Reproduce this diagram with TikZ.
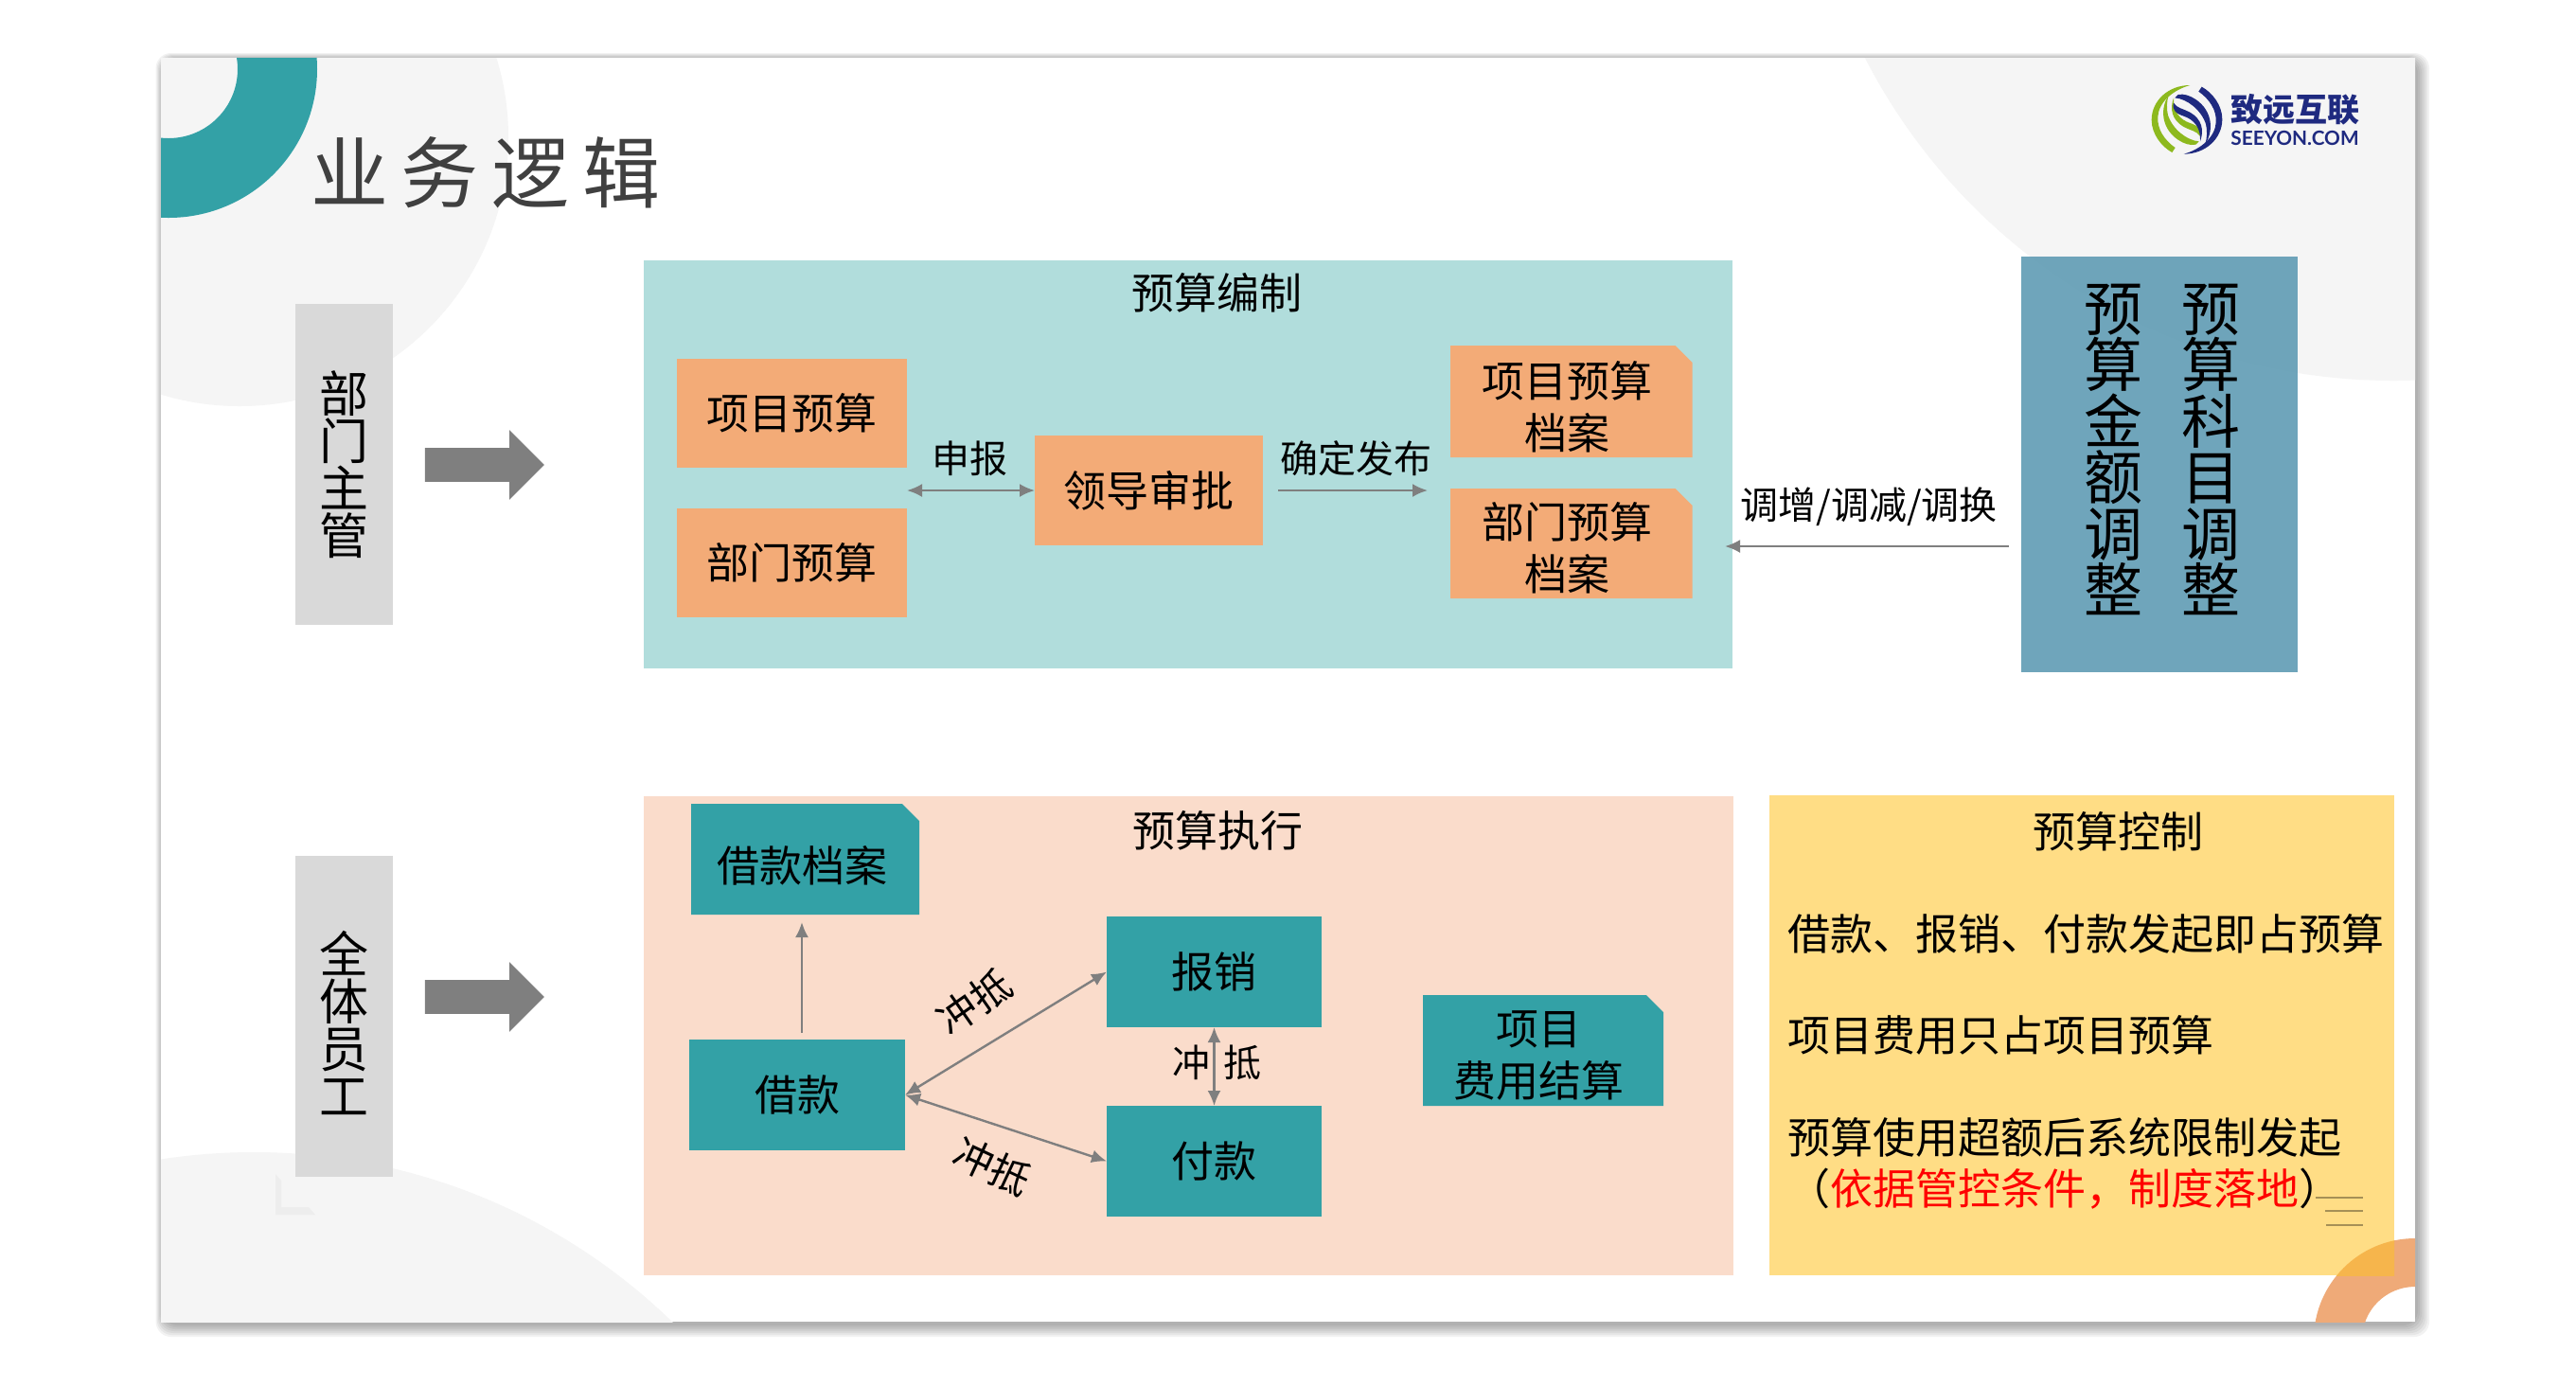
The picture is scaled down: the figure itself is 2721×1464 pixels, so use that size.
\documentclass[tikz,border=0pt]{standalone}
\usepackage{fontspec}
\setmainfont{Noto Sans CJK SC}
\newfontfamily\titlefont[LetterSpace=17]{Noto Sans CJK SC}
\newfontfamily\logofont[Scale=1]{Lato}
\usetikzlibrary{arrows.meta,shapes.arrows}
\definecolor{cTeal}{HTML}{33A1A6}
\definecolor{cOrange}{HTML}{F3AB77}
\definecolor{cMint}{HTML}{B1DDDC}
\definecolor{cPeach}{HTML}{FADCCB}
\definecolor{cYellow}{HTML}{FFDD85}
\definecolor{cBlue}{HTML}{609CB4}
\definecolor{cGrey}{HTML}{D9D9D9}
\definecolor{cArrow}{HTML}{7F7F7F}
\definecolor{cPale}{HTML}{F5F5F5}
\definecolor{cRing}{HTML}{EFAA78}
\definecolor{cOverlap}{HTML}{F6B54C}
\definecolor{cLogoBlue}{HTML}{1F2A80}
\definecolor{cLogoGreen}{HTML}{8DB91E}
\definecolor{cTitle}{HTML}{404040}
\tikzset{
  sz/.style 2 args={minimum width=#1*0.5pt,minimum height=#2*0.5pt,inner sep=0pt,outer sep=0pt},
  panel/.style={rectangle,fill=#1,anchor=center},
  txt/.style={font=\fontsize{22.5}{27.5}\selectfont,text=black,align=center},
  small/.style={font=\fontsize{20}{24}\selectfont,text=black,inner sep=0pt},
  tilted/.style={font=\fontsize{21}{21}\selectfont,text=black,inner sep=0pt},
  tag/.style={rectangle,fill=cGrey},
  tagtext/.style={font=\fontsize{26}{25}\selectfont,align=center,inner sep=0pt,text=black},
  tall/.style={font=\fontsize{31}{29.7}\selectfont,align=center,inner sep=0pt},
  doc/.style={rectangle,path picture={
    \fill[#1] (path picture bounding box.north west)
      -- ([xshift=-9pt]path picture bounding box.north east)
      -- ([yshift=-9pt]path picture bounding box.north east)
      -- (path picture bounding box.south east)
      -- (path picture bounding box.south west) -- cycle;}},
  link/.style={draw=cArrow,line width=1.2pt,-{Latex[length=8pt,width=7pt]}},
  linkboth/.style={draw=cArrow,line width=1.2pt,{Latex[length=8pt,width=7pt]}-{Latex[length=8pt,width=7pt]}},
  bigarrow/.style={single arrow,fill=cArrow,inner xsep=0pt,inner ysep=8.75pt,outer sep=0pt,minimum height=63pt,minimum width=36.5pt,
    single arrow head extend=9.5pt,single arrow head indent=0pt},
  yline/.style={anchor=west,txt,inner sep=0pt},
}
\begin{document}
\begin{tikzpicture}[x=0.5pt,y=-0.5pt]
\useasboundingbox (0,0) rectangle (2721,1464);
% slide shadow
\foreach \r in {14,12,10,8,6,4,2}{
  \fill[black,opacity=0.05,rounded corners=8pt]
    ({170-\r*0.6+3},{61-\r*0.5+2}) rectangle ({2551+\r+1},{1396+\r+2});
}
\fill[white] (170,61) rectangle (2551,1396);
% slide decorations
\begin{scope}
  \clip (170,61) rectangle (2551,1396);
  \fill[cPale] (253,145) circle (284);
  \fill[cPale] (268,1852) circle (635);
  \fill[cPale] (2528,-225) circle (627);
  \fill[cTeal,even odd rule] (178,73) circle (157) (178,73) circle (73);
  \fill[cRing,even odd rule] (2551,1415) circle (107) (2551,1415) circle (56);
  \fill[black!7] (291,1240) -- (297,1247) -- (297,1275) -- (326,1275) -- (333,1283) -- (291,1283) -- cycle;
\end{scope}
% title
\node[font=\titlefont\fontsize{41}{41}\selectfont,text=cTitle,inner sep=0pt] (title) at (513,182) {业务逻辑};
% logo
\begin{scope}[shift={(2260,80)},scale=1/3]
  \foreach \col/\ang in {cLogoGreen/0,cLogoBlue/180}{
    \begin{scope}[rotate around={\ang:(150,139)}]
      \fill[\col] (160,30) .. controls (90,30) and (38,80) .. (38,140)
        .. controls (38,185) and (70,225) .. (103,243) -- (113,228)
        .. controls (80,205) and (55,170) .. (58,130)
        .. controls (60,85) and (105,45) .. (160,30) -- cycle;
      \fill[\col] (92,62) .. controls (66,100) and (66,165) .. (122,203)
        .. controls (140,215) and (160,222) .. (178,218) -- (188,208)
        .. controls (150,205) and (105,170) .. (90,125)
        .. controls (85,105) and (86,80) .. (92,62) -- cycle;
      \fill[\col] (108,70) .. controls (95,105) and (102,140) .. (140,162)
        .. controls (160,173) and (182,175) .. (192,192)
        .. controls (198,170) and (185,158) .. (160,150)
        .. controls (130,140) and (105,115) .. (108,70) -- cycle;
    \end{scope}
  }
\end{scope}
\node[font=\bfseries\fontsize{17}{17}\selectfont,text=cLogoBlue,inner sep=0pt] (logoa) at (2424,116) {致远互联};
\node[font=\logofont\bfseries\fontsize{10.4}{10.4}\selectfont,text=cLogoBlue,inner sep=0pt] (logob) at (2424,146) {SEEYON.COM};
% left tags
\node[tag,sz={103}{339}] (tagA) at (363.5,490.5) {};
\node[tagtext] (tagAT) at (363,491) {部\\门\\主\\管};
\node[tag,sz={103}{339}] (tagB) at (363.5,1073.5) {};
\node[tagtext] (tagBT) at (363,1080) {全\\体\\员\\工};
\node[bigarrow] (bigA) at (503,491) {};
\node[bigarrow] (bigB) at (503,1053) {};
% upper panel
\node[panel=cMint,sz={1150}{431}] (mint) at (1255,490.5) {};
\node[txt,inner sep=0pt] (mintT) at (1285,309) {预算编制};
\node[panel=cOrange,sz={243}{115},txt] (xm) at (836.5,436.5) {项目预算};
\node[panel=cOrange,sz={243}{115},txt] (bm) at (836.5,594) {部门预算};
\node[panel=cOrange,sz={241}{116},txt] (ld) at (1213.5,518) {领导审批};
\node[doc=cOrange,sz={255.5}{118}] (xda) at (1659.75,424) {};
\node[txt,inner sep=0pt] (xdaT) at (1655.5,429.5) {项目预算\\档案};
\node[doc=cOrange,sz={255.5}{116}] (bda) at (1659.75,574) {};
\node[txt,inner sep=0pt] (bdaT) at (1655.5,578.7) {部门预算\\档案};
\coordinate (sbS) at (958,518);
\draw[linkboth] (sbS) -- (ld.west);
\node[small] (sbL) at (1024,484) {申报};
\coordinate (fbS) at (1350,518);
\coordinate (fbE) at (1508,518);
\draw[link] (fbS) -- (fbE);
\node[small] (fbL) at (1432,484) {确定发布};
% blue panel
\node[panel=cBlue,opacity=0.9,sz={292}{439}] (blue) at (2281,490.5) {};
\node[tall] (blueA) at (2232,475) {预\\算\\金\\额\\调\\整};
\node[tall] (blueB) at (2335,475) {预\\算\\科\\目\\调\\整};
\coordinate (tzS) at (2122,577);
\coordinate (tzE) at (1822,577);
\draw[link] (tzS) -- (tzE);
\node[small] (tzL) at (1974,535) {调增/调减/调换};
% lower panel
\node[panel=cPeach,sz={1151}{506}] (peach) at (1255,1094) {};
\node[txt,inner sep=0pt] (peachT) at (1286,877) {预算执行};
\node[doc=cTeal,sz={241}{117}] (jd) at (850.5,907.5) {};
\node[txt,inner sep=0pt] (jdT) at (847,914.5) {借款档案};
\node[panel=cTeal,sz={228}{117},txt] (jk) at (842,1156.5) {借款};
\node[panel=cTeal,sz={227}{117},txt] (bx) at (1282.5,1026.5) {报销};
\node[panel=cTeal,sz={227}{117},txt] (fk) at (1282.5,1226.5) {付款};
\node[doc=cTeal,sz={254}{117}] (js) at (1630,1109.5) {};
\node[txt,inner sep=0pt] (jsT) at (1625,1115) {项目\\费用结算};
\coordinate (jkUp) at (847,1091);
\coordinate (jdDn) at (847,974);
\draw[link] (jkUp) -- (jdDn);
\draw[linkboth] (jk.east) -- (bx.west);
\draw[linkboth] (jk.east) -- (fk.west);
\draw[linkboth] (bx.south) -- (fk.north);
\node[tilted,rotate=35] (cd1) at (1029,1058) {冲抵};
\node[tilted,rotate=-25] (cd2) at (1048,1232) {冲抵};
\node[small] (cd3) at (1285,1122) {冲\hspace{7pt}抵};
% yellow panel
\node[panel=cYellow,sz={660}{507}] (yel) at (2199,1093.5) {};
\begin{scope}
  \clip (1869,840) rectangle (2529,1347);
  \fill[cOverlap] (2551,1415) circle (107);
\end{scope}
\node[txt,inner sep=0pt] (yelT) at (2237,878) {预算控制};
\node[yline] (y1) at (1888,986) {借款、报销、付款发起即占预算};
\node[yline] (y2) at (1888,1093) {项目费用只占项目预算};
\node[yline] (y3) at (1888,1201) {预算使用超额后系统限制发起};
\node[yline] (y4) at (1888,1256) {（\textcolor{red}{依据管控条件，制度落地}）};
\draw[draw=black!35!cYellow,line width=0.8pt] (2446,1265) -- (2496,1265) (2456,1279) -- (2496,1279) (2457,1294) -- (2496,1294);
\end{tikzpicture}
\end{document}
